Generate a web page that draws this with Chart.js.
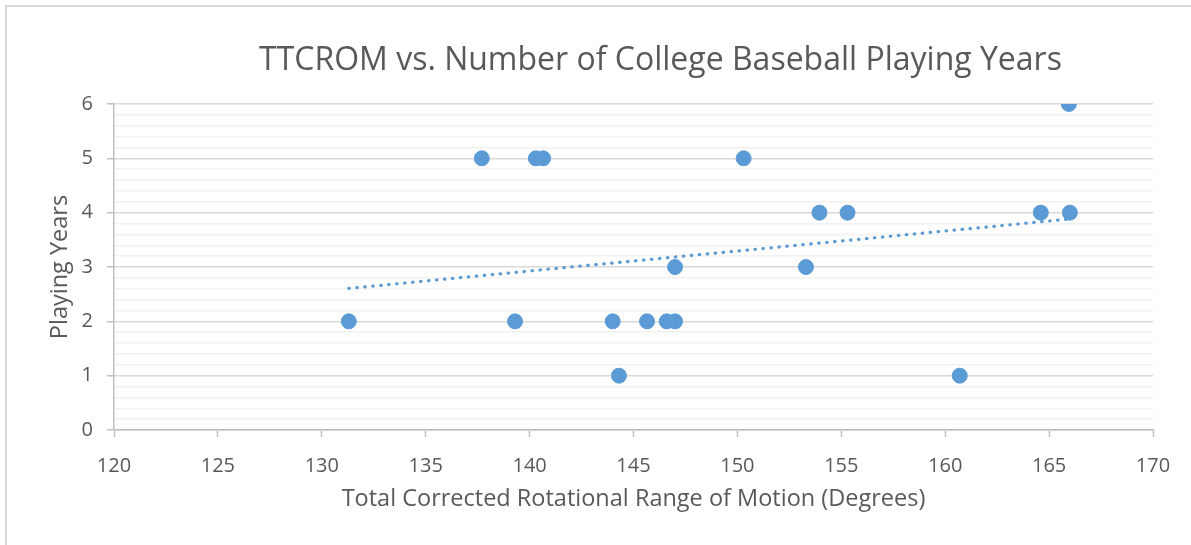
<!DOCTYPE html>
<html>
<head>
<meta charset="utf-8">
<script src="https://cdn.jsdelivr.net/npm/chart.js@4.4.1/dist/chart.umd.min.js"></script>
<style>
    body { margin: 0; background: #fff; }
    #wrap { position: relative; width: 1191px; height: 545px; }
    #frame {
        position: absolute; left: 5px; top: 5px; right: -10px; bottom: -10px;
        border-left: 2px solid #d9d9d9; border-top: 2px solid #d9d9d9;
        pointer-events: none;
    }
</style>
</head>
<body>
<div id="wrap">
    <canvas id="ttcromChart" width="1191" height="545"></canvas>
    <div id="frame"></div>
</div>
<script>
// TTCROM (degrees) and playing years
const ttcrom = [131.3, 137.7, 139.3, 140.3, 140.65, 144.0, 144.3, 145.65, 146.6, 147.0,
                147.0, 150.3, 153.3, 153.95, 155.3, 160.7, 164.6, 165.95, 166.0];
const playingYears = [2, 5, 2, 5, 5, 2, 1, 2, 2, 2,
                      3, 5, 3, 4, 4, 1, 4, 6, 4];
const xTicks = [120, 125, 130, 135, 140, 145, 150, 155, 160, 165, 170];
const yTicks = [0, 1, 2, 3, 4, 5, 6];
const yMinorPerMajor = 5;

const chartTitle = 'TTCROM vs. Number of College Baseball Playing Years';
const xTitle = 'Total Corrected Rotational Range of Motion (Degrees)';
const yTitle = 'Playing Years';

const blue = '#5B9BD5';
const textColor = '#595959';
const fontFamily = '"Open Sans", sans-serif';

// linear trendline (least squares) over the data
function linearFit(xs, ys) {
    const n = xs.length;
    const mx = xs.reduce((a, b) => a + b, 0) / n;
    const my = ys.reduce((a, b) => a + b, 0) / n;
    let sxy = 0, sxx = 0;
    for (let i = 0; i < n; i++) {
        sxy += (xs[i] - mx) * (ys[i] - my);
        sxx += (xs[i] - mx) * (xs[i] - mx);
    }
    const slope = sxy / sxx;
    return x => my + slope * (x - mx);
}
const fit = linearFit(ttcrom, playingYears);
const xMin = Math.min(...ttcrom);
const xMax = Math.max(...ttcrom);
const trend = [{ x: xMin, y: fit(xMin) }, { x: xMax, y: fit(xMax) }];

const points = ttcrom.map((x, i) => ({ x: x, y: playingYears[i] }));

// major ticks plus the minor gridlines between them
const yGridTicks = [];
yTicks.forEach((v, i) => {
    yGridTicks.push({ value: v, major: true });
    if (i < yTicks.length - 1) {
        const step = (yTicks[i + 1] - v) / yMinorPerMajor;
        for (let k = 1; k < yMinorPerMajor; k++) {
            yGridTicks.push({ value: v + k * step, major: false });
        }
    }
});

const isMajor = v => Math.abs(v - Math.round(v)) < 1e-6;

// title drawn a bit right of centre, like the Excel original
const titlePlugin = {
    id: 'offsetTitle',
    afterDraw(chart) {
        const { ctx, chartArea } = chart;
        ctx.save();
        ctx.fillStyle = textColor;
        ctx.font = '32px ' + fontFamily;
        ctx.textAlign = 'center';
        ctx.textBaseline = 'alphabetic';
        ctx.fillText(chartTitle, (chartArea.left + chartArea.right) / 2 + 27, 70);
        ctx.restore();
    }
};

const ctx = document.getElementById('ttcromChart').getContext('2d');

const myChart = new Chart(ctx, {
    type: 'scatter',
    data: {
        datasets: [
            {
                label: 'Trendline',
                type: 'line',
                data: trend,
                borderColor: blue,
                borderWidth: 3.2,
                borderDash: [0.5, 7.5],
                borderCapStyle: 'round',
                pointRadius: 0,
                fill: false,
                order: 2
            },
            {
                label: 'Playing Years',
                data: points,
                backgroundColor: blue,
                borderColor: blue,
                pointRadius: 7.5,
                pointHoverRadius: 7.5,
                order: 1
            }
        ]
    },
    options: {
        responsive: false,
        animation: false,
        layout: {
            padding: { top: 104, right: 38, bottom: 0, left: 0 }
        },
        plugins: {
            legend: { display: false },
            title: { display: false },
            tooltip: { enabled: false }
        },
        scales: {
            x: {
                type: 'linear',
                min: 120,
                max: 170,
                afterFit: scale => { scale.height = 115; },
                afterBuildTicks: scale => { scale.ticks = xTicks.map(v => ({ value: v })); },
                ticks: {
                    color: textColor,
                    padding: 17,
                    font: { family: fontFamily, size: 20 }
                },
                grid: {
                    drawOnChartArea: false,
                    drawTicks: true,
                    tickLength: 7,
                    tickColor: '#bfbfbf',
                    tickWidth: 1.5
                },
                border: { color: '#bfbfbf', width: 1.5 },
                title: {
                    display: true,
                    text: xTitle,
                    color: textColor,
                    font: { family: fontFamily, size: 23.5 },
                    padding: { top: 0, bottom: 32 }
                }
            },
            y: {
                type: 'linear',
                min: 0,
                max: 6,
                afterFit: scale => { scale.width = 114; },
                afterBuildTicks: scale => { scale.ticks = yGridTicks.map(t => ({ value: t.value })); },
                ticks: {
                    autoSkip: false,
                    color: textColor,
                    padding: 14,
                    font: { family: fontFamily, size: 20 },
                    callback: v => isMajor(v) ? String(Math.round(v)) : ''
                },
                grid: {
                    color: c => isMajor(c.tick.value) ? '#d9d9d9' : '#f2f2f2',
                    lineWidth: 1.5,
                    tickLength: 7,
                    tickColor: c => isMajor(c.tick.value) ? '#bfbfbf' : 'rgba(0,0,0,0)',
                    tickWidth: 1.5
                },
                border: { color: '#bfbfbf', width: 1.5 },
                title: {
                    display: true,
                    text: yTitle,
                    color: textColor,
                    font: { family: fontFamily, size: 23.5 },
                    padding: { top: 46, bottom: 0 }
                }
            }
        }
    },
    plugins: [titlePlugin]
});
</script>
</body>
</html>
